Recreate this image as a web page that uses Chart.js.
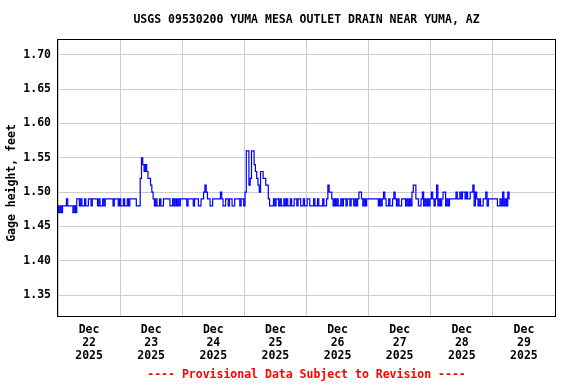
<!DOCTYPE html>
<html><head><meta charset="utf-8">
<script src="https://cdn.jsdelivr.net/npm/chart.js@4"></script>
<style>html,body{margin:0;padding:0;background:#fff}</style>
</head><body>
<canvas id="c" width="576" height="384"></canvas>
<script>
const chartTitle = 'USGS 09530200 YUMA MESA OUTLET DRAIN NEAR YUMA, AZ';
const yAxisTitle = 'Gage height, feet';
const footerText = '---- Provisional Data Subject to Revision ----';
const dayLabels = [
  ['Dec','22','2025'],['Dec','23','2025'],['Dec','24','2025'],['Dec','25','2025'],
  ['Dec','26','2025'],['Dec','27','2025'],['Dec','28','2025'],['Dec','29','2025']
];
const yTicks = [1.35, 1.40, 1.45, 1.50, 1.55, 1.60, 1.65, 1.70];
const firstReadingHour = 0;     // hours after Dec 22 00:00
const readingStepHours = 0.5;
const gageHeight = [
1.48,1.47,1.48,1.47,1.48,1.48,1.48,1.49,1.48,1.48,
1.48,1.48,1.47,1.48,1.47,1.49,1.49,1.48,1.49,1.48,
1.48,1.49,1.48,1.48,1.49,1.49,1.48,1.49,1.49,1.49,
1.49,1.48,1.49,1.48,1.48,1.49,1.48,1.49,1.49,1.49,
1.49,1.49,1.49,1.48,1.49,1.49,1.49,1.48,1.49,1.48,
1.48,1.49,1.48,1.48,1.49,1.48,1.49,1.49,1.49,1.49,
1.49,1.48,1.48,1.48,1.52,1.55,1.54,1.53,1.54,1.53,
1.52,1.52,1.51,1.50,1.49,1.48,1.49,1.48,1.48,1.49,
1.48,1.48,1.49,1.49,1.49,1.49,1.49,1.48,1.48,1.49,
1.48,1.49,1.48,1.49,1.48,1.49,1.49,1.49,1.49,1.49,
1.48,1.49,1.49,1.49,1.49,1.48,1.49,1.49,1.49,1.48,
1.48,1.49,1.49,1.50,1.51,1.50,1.49,1.49,1.48,1.48,
1.49,1.49,1.49,1.49,1.49,1.49,1.50,1.49,1.48,1.48,
1.49,1.49,1.48,1.49,1.49,1.48,1.48,1.49,1.49,1.49,
1.49,1.48,1.49,1.49,1.48,1.50,1.56,1.56,1.51,1.52,
1.56,1.56,1.54,1.53,1.52,1.51,1.50,1.53,1.53,1.52,
1.52,1.51,1.51,1.49,1.48,1.48,1.48,1.49,1.48,1.49,
1.49,1.48,1.49,1.48,1.48,1.49,1.48,1.49,1.48,1.48,
1.49,1.48,1.48,1.49,1.49,1.48,1.49,1.49,1.48,1.48,
1.49,1.48,1.48,1.49,1.49,1.48,1.48,1.48,1.49,1.48,
1.48,1.49,1.48,1.48,1.48,1.49,1.48,1.48,1.49,1.51,
1.50,1.50,1.49,1.48,1.49,1.48,1.49,1.48,1.48,1.49,
1.48,1.49,1.49,1.48,1.49,1.49,1.48,1.49,1.49,1.48,
1.49,1.48,1.49,1.50,1.50,1.49,1.48,1.49,1.48,1.49,
1.49,1.49,1.49,1.49,1.49,1.49,1.49,1.49,1.48,1.49,
1.48,1.49,1.50,1.49,1.48,1.48,1.49,1.48,1.48,1.49,
1.50,1.49,1.48,1.49,1.48,1.48,1.49,1.49,1.49,1.48,
1.49,1.48,1.49,1.48,1.50,1.51,1.51,1.49,1.49,1.48,
1.48,1.49,1.50,1.48,1.49,1.48,1.49,1.48,1.49,1.50,
1.49,1.48,1.49,1.51,1.48,1.49,1.48,1.49,1.50,1.50,
1.48,1.49,1.48,1.49,1.49,1.49,1.49,1.49,1.50,1.49,
1.49,1.50,1.49,1.50,1.50,1.49,1.50,1.49,1.49,1.50,
1.50,1.51,1.48,1.50,1.49,1.48,1.49,1.48,1.48,1.49,
1.49,1.50,1.48,1.49,1.49,1.49,1.49,1.49,1.49,1.49,
1.48,1.48,1.49,1.48,1.50,1.48,1.49,1.48,1.50,1.49
];

const FONT = "'DejaVu Sans Mono', 'Liberation Mono', monospace";
const points = gageHeight.map((v, i) => ({ x: firstReadingHour + i * readingStepHours, y: v }));

const decorPlugin = {
  id: 'decor',
  afterDraw(chart) {
    const { ctx, chartArea: a } = chart;
    ctx.save();
    ctx.strokeStyle = '#000';
    ctx.lineWidth = 1;
    ctx.strokeRect(a.left - 0.5, a.top - 0.5, a.right - a.left + 1, a.bottom - a.top + 1);
    ctx.fillStyle = '#000';
    ctx.font = 'bold 11.5px ' + FONT;
    ctx.textAlign = 'center';
    ctx.textBaseline = 'middle';
    ctx.fillText(chartTitle, (a.left + a.right) / 2, 20);
    ctx.save();
    ctx.translate(12, 183);
    ctx.rotate(-Math.PI / 2);
    ctx.fillText(yAxisTitle, 0, 0);
    ctx.restore();
    ctx.fillStyle = '#ff0000';
    ctx.fillText(footerText, (a.left + a.right) / 2, 375);
    ctx.restore();
  }
};

new Chart(document.getElementById('c'), {
  type: 'line',
  data: {
    datasets: [{
      data: points,
      borderColor: '#0000ff',
      borderWidth: 1.2,
      pointRadius: 0,
      stepped: 'middle',
      fill: false
    }]
  },
  options: {
    responsive: false,
    devicePixelRatio: 1,
    animation: false,
    layout: { padding: { top: 40, right: 21, left: 0, bottom: 0 } },
    plugins: { legend: { display: false }, title: { display: false }, tooltip: { enabled: false } },
    scales: {
      x: {
        type: 'linear', min: 0, max: 192,
        afterBuildTicks: s => { const t = []; for (let h = 0; h <= 192; h += 12) t.push({ value: h }); s.ticks = t; },
        afterFit: s => { s.height = 68; },
        grid: { color: c => (c.tick && c.tick.value % 24 === 0) ? '#cccccc' : 'rgba(0,0,0,0)', drawTicks: false, lineWidth: 1 },
        border: { display: false },
        ticks: {
          autoSkip: false, maxRotation: 0, minRotation: 0, padding: 8, color: '#000',
          font: { family: FONT, size: 11.5, weight: 'bold', lineHeight: 1.12 },
          callback: v => (v % 24 === 12) ? dayLabels[(v - 12) / 24] : ''
        }
      },
      y: {
        min: 1.3195, max: 1.7215,
        afterBuildTicks: s => { s.ticks = yTicks.map(v => ({ value: v })); },
        afterFit: s => { s.width = 58; },
        grid: { color: '#cccccc', drawTicks: false, lineWidth: 1 },
        border: { display: false },
        ticks: {
          padding: 7, color: '#000',
          font: { family: FONT, size: 11.5, weight: 'bold' },
          callback: v => Number(v).toFixed(2)
        }
      }
    }
  },
  plugins: [decorPlugin]
});
</script>
</body></html>
